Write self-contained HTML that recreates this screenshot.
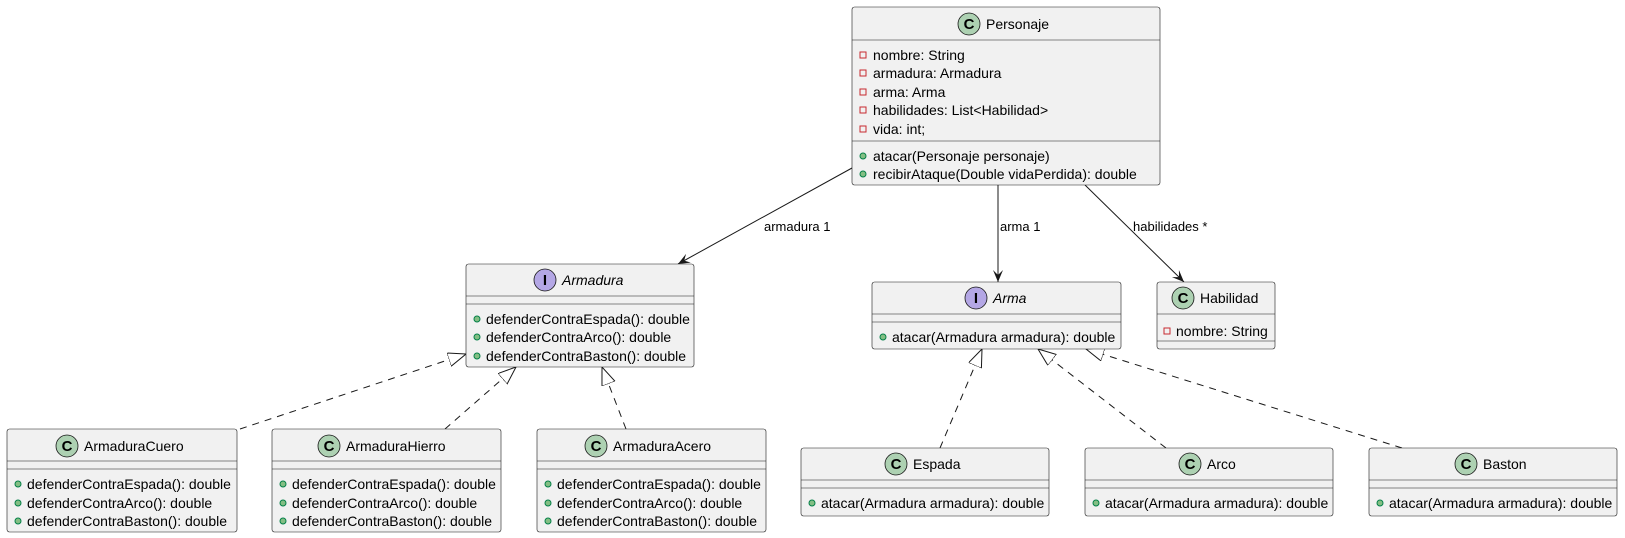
<!DOCTYPE html>
<html><head><meta charset="utf-8"><style>
html,body{margin:0;padding:0;background:#fff}
svg{display:block}
text{font-family:"Liberation Sans",sans-serif;font-size:14px;fill:#000}
.b{fill:#F1F1F1;stroke:#181818;stroke-width:0.6}
.l{stroke:#181818;stroke-width:0.6}
.c{fill:#ADD1B2;stroke:#181818;stroke-width:0.8}
.i{fill:#B4A7E5;stroke:#181818;stroke-width:0.8}
.g{font-weight:bold;font-size:15px;text-anchor:middle}
.pv{fill:none;stroke:#C82930;stroke-width:1}
.pb{fill:#84BE84;stroke:#038048;stroke-width:1}
.e{stroke:#181818;stroke-width:1;fill:none}
.d{stroke:#181818;stroke-width:1;fill:none;stroke-dasharray:7,6}
</style></head><body>
<svg width="1625" height="538" viewBox="0 0 1625 538" xmlns="http://www.w3.org/2000/svg">
<defs>
<marker id="ar" markerUnits="userSpaceOnUse" markerWidth="14" markerHeight="12" refX="12" refY="5" orient="auto"><path d="M12,5 L0,0 L5,5 L0,10 Z" fill="#181818"/></marker>
<marker id="tr" markerUnits="userSpaceOnUse" markerWidth="20" markerHeight="16" refX="18" refY="7" orient="auto"><path d="M18,7 L0,0 L0,14 Z" fill="#fff" stroke="#181818" stroke-width="1"/></marker>
</defs>

<line class="e" x1="852" y1="168" x2="678" y2="264" marker-end="url(#ar)"/>
<text x="764" y="231" style="font-size:13px">armadura 1</text>
<line class="e" x1="998" y1="185" x2="998" y2="282" marker-end="url(#ar)"/>
<text x="1000" y="231" style="font-size:13px">arma 1</text>
<line class="e" x1="1085" y1="185" x2="1184" y2="282" marker-end="url(#ar)"/>
<text x="1133" y="231" style="font-size:13px">habilidades *</text>

<line class="d" x1="240" y1="429" x2="466" y2="354" marker-end="url(#tr)"/>
<line class="d" x1="445" y1="429" x2="516" y2="367" marker-end="url(#tr)"/>
<line class="d" x1="626" y1="429" x2="602" y2="367" marker-end="url(#tr)"/>
<line class="d" x1="940" y1="448" x2="982" y2="349" marker-end="url(#tr)"/>
<line class="d" x1="1166" y1="448" x2="1038" y2="349" marker-end="url(#tr)"/>
<line class="d" x1="1402" y1="448" x2="1086" y2="349" marker-end="url(#tr)"/>

<rect class="b" x="852" y="7" width="308" height="178" rx="2.5"/>
<line class="l" x1="852" y1="40" x2="1160" y2="40"/>
<line class="l" x1="852" y1="141" x2="1160" y2="141"/>
<circle class="c" cx="969" cy="24" r="11"/><text class="g" x="969" y="29">C</text>
<text x="986" y="29">Personaje</text>
<rect class="pv" x="860" y="52" width="6" height="6"/><text x="873" y="60">nombre: String</text>
<rect class="pv" x="860" y="70" width="6" height="6"/><text x="873" y="78">armadura: Armadura</text>
<rect class="pv" x="860" y="89" width="6" height="6"/><text x="873" y="97">arma: Arma</text>
<rect class="pv" x="860" y="107" width="6" height="6"/><text x="873" y="115">habilidades: List&lt;Habilidad&gt;</text>
<rect class="pv" x="860" y="126" width="6" height="6"/><text x="873" y="134">vida: int;</text>
<circle class="pb" cx="863" cy="156" r="3"/><text x="873" y="161">atacar(Personaje personaje)</text>
<circle class="pb" cx="863" cy="174" r="3"/><text x="873" y="179">recibirAtaque(Double vidaPerdida): double</text>

<rect class="b" x="466" y="264" width="228" height="103" rx="2.5"/>
<line class="l" x1="466" y1="296" x2="694" y2="296"/>
<line class="l" x1="466" y1="304" x2="694" y2="304"/>
<circle class="i" cx="545" cy="280" r="11"/><text class="g" x="545" y="285">I</text>
<text x="562" y="285" font-style="italic">Armadura</text>
<circle class="pb" cx="477" cy="319" r="3"/><text x="486" y="324">defenderContraEspada(): double</text>
<circle class="pb" cx="477" cy="337" r="3"/><text x="486" y="342">defenderContraArco(): double</text>
<circle class="pb" cx="477" cy="356" r="3"/><text x="486" y="361">defenderContraBaston(): double</text>

<rect class="b" x="872" y="282" width="249" height="67" rx="2.5"/>
<line class="l" x1="872" y1="314" x2="1121" y2="314"/>
<line class="l" x1="872" y1="322" x2="1121" y2="322"/>
<circle class="i" cx="976" cy="298" r="11"/><text class="g" x="976" y="303">I</text>
<text x="993" y="303" font-style="italic">Arma</text>
<circle class="pb" cx="883" cy="337" r="3"/><text x="892" y="342">atacar(Armadura armadura): double</text>

<rect class="b" x="1157" y="282" width="118" height="67" rx="2.5"/>
<line class="l" x1="1157" y1="314" x2="1275" y2="314"/>
<line class="l" x1="1157" y1="341" x2="1275" y2="341"/>
<circle class="c" cx="1183" cy="298" r="11"/><text class="g" x="1183" y="303">C</text>
<text x="1200" y="303">Habilidad</text>
<rect class="pv" x="1164" y="328" width="6" height="6"/><text x="1176" y="336">nombre: String</text>

<g>
<rect class="b" x="7" y="429" width="230" height="103" rx="2.5"/>
<line class="l" x1="7" y1="461" x2="237" y2="461"/><line class="l" x1="7" y1="469" x2="237" y2="469"/>
<circle class="c" cx="67" cy="446" r="11"/><text class="g" x="67" y="451">C</text>
<text x="84" y="451">ArmaduraCuero</text>
<circle class="pb" cx="18" cy="484" r="3"/><text x="27" y="489">defenderContraEspada(): double</text>
<circle class="pb" cx="18" cy="503" r="3"/><text x="27" y="508">defenderContraArco(): double</text>
<circle class="pb" cx="18" cy="521" r="3"/><text x="27" y="526">defenderContraBaston(): double</text>
</g>
<g>
<rect class="b" x="272" y="429" width="229" height="103" rx="2.5"/>
<line class="l" x1="272" y1="461" x2="501" y2="461"/><line class="l" x1="272" y1="469" x2="501" y2="469"/>
<circle class="c" cx="329" cy="446" r="11"/><text class="g" x="329" y="451">C</text>
<text x="346" y="451">ArmaduraHierro</text>
<circle class="pb" cx="283" cy="484" r="3"/><text x="292" y="489">defenderContraEspada(): double</text>
<circle class="pb" cx="283" cy="503" r="3"/><text x="292" y="508">defenderContraArco(): double</text>
<circle class="pb" cx="283" cy="521" r="3"/><text x="292" y="526">defenderContraBaston(): double</text>
</g>
<g>
<rect class="b" x="537" y="429" width="229" height="103" rx="2.5"/>
<line class="l" x1="537" y1="461" x2="766" y2="461"/><line class="l" x1="537" y1="469" x2="766" y2="469"/>
<circle class="c" cx="596" cy="446" r="11"/><text class="g" x="596" y="451">C</text>
<text x="613" y="451">ArmaduraAcero</text>
<circle class="pb" cx="548" cy="484" r="3"/><text x="557" y="489">defenderContraEspada(): double</text>
<circle class="pb" cx="548" cy="503" r="3"/><text x="557" y="508">defenderContraArco(): double</text>
<circle class="pb" cx="548" cy="521" r="3"/><text x="557" y="526">defenderContraBaston(): double</text>
</g>

<g>
<rect class="b" x="801" y="448" width="248" height="68" rx="2.5"/>
<line class="l" x1="801" y1="480" x2="1049" y2="480"/><line class="l" x1="801" y1="488" x2="1049" y2="488"/>
<circle class="c" cx="896" cy="464" r="11"/><text class="g" x="896" y="469">C</text>
<text x="913" y="469">Espada</text>
<circle class="pb" cx="812" cy="503" r="3"/><text x="821" y="508">atacar(Armadura armadura): double</text>
</g>
<g>
<rect class="b" x="1085" y="448" width="248" height="68" rx="2.5"/>
<line class="l" x1="1085" y1="480" x2="1333" y2="480"/><line class="l" x1="1085" y1="488" x2="1333" y2="488"/>
<circle class="c" cx="1190" cy="464" r="11"/><text class="g" x="1190" y="469">C</text>
<text x="1207" y="469">Arco</text>
<circle class="pb" cx="1096" cy="503" r="3"/><text x="1105" y="508">atacar(Armadura armadura): double</text>
</g>
<g>
<rect class="b" x="1369" y="448" width="248" height="68" rx="2.5"/>
<line class="l" x1="1369" y1="480" x2="1617" y2="480"/><line class="l" x1="1369" y1="488" x2="1617" y2="488"/>
<circle class="c" cx="1466" cy="464" r="11"/><text class="g" x="1466" y="469">C</text>
<text x="1483" y="469">Baston</text>
<circle class="pb" cx="1380" cy="503" r="3"/><text x="1389" y="508">atacar(Armadura armadura): double</text>
</g>
</svg>
</body></html>
